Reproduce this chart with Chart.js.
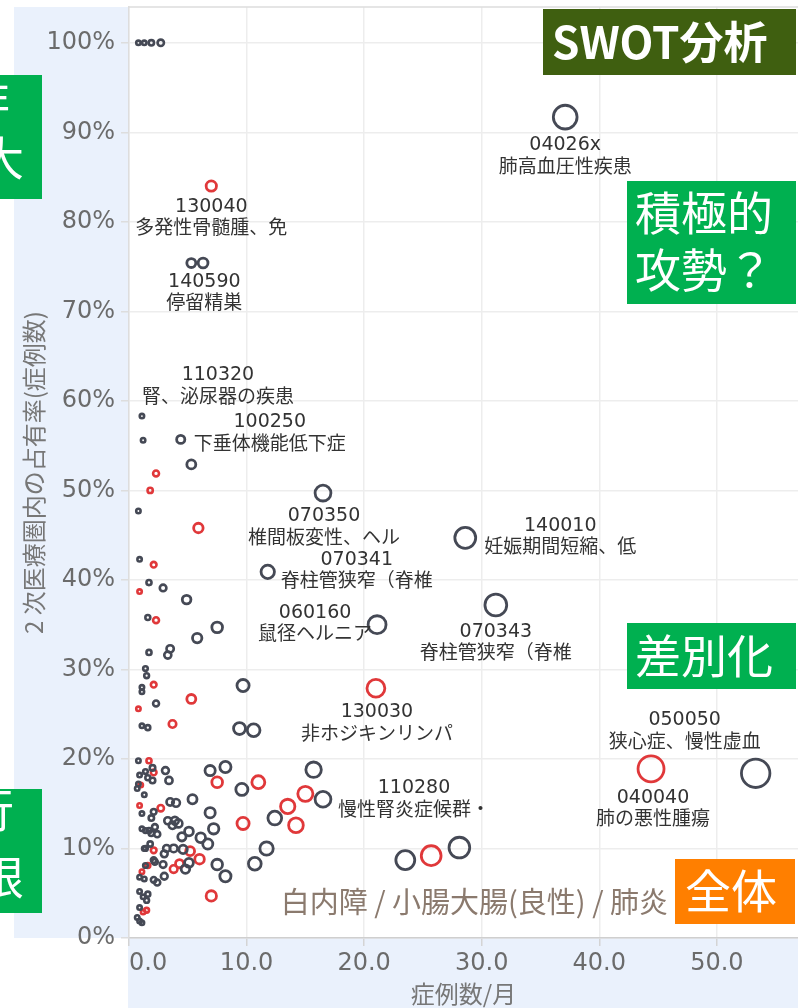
<!DOCTYPE html>
<html lang="ja">
<head>
<meta charset="utf-8">
<title>SWOT分析</title>
<script src="https://cdn.jsdelivr.net/npm/chart.js@4.4.1/dist/chart.umd.min.js"></script>
<style>
  html, body { margin: 0; padding: 0; background: #fff; }
  #wrap { width: 798px; height: 1008px; }
</style>
</head>
<body>
<div id="wrap"><canvas id="myChart" width="798" height="1008"></canvas></div>
<script>
// 症例数/月 (x) と 2次医療圏内の占有率 % (y)。先頭はラベル付きの点
const grayX = [37.1, 5.3, 6.3, 1.1, 4.4, 16.5, 11.8, 21.1, 28.6, 31.2, 16.5, 53.3,
  1.2, 5.3, 0.8, 0.9, 1.7, 2.9, 4.9, 1.6, 7.5, 5.8, 3.5, 3.3, 1.7, 1.4, 1.5, 1.1, 1.1,
  9.7, 2.3, 1.1, 1.6, 9.4, 10.6, 15.7, 12.4, 9.6, 11.7, 10.7, 8.2, 6.9, 6.9, 7.2, 6.1,
  6.7, 7.5, 8.2, 5.4, 5.1, 5.1, 4.8, 4.6, 4.5, 4.2, 3.9, 3.3, 3.7, 3.5, 4.0, 3.1, 3.4,
  3.8, 3.2, 3.0, 2.9, 3.0, 2.4, 2.1, 2.2, 2.1, 1.9, 2.2, 2.4, 1.9, 1.7, 1.8, 1.4, 2.1,
  1.4, 0.9, 1.3, 0.9, 1.6, 1.2, 1.5, 0.9, 0.7, 0.9, 1.1, 0.8, 2.0, 1.4, 0.9, 1.6, 2.0,
  0.8, 0.7, 1.3, 1.1, 1.1, 1.4, 1.3, 23.5, 28.1, 0.8, 1.3, 1.9, 2.7];
const grayY = [91.7, 75.4, 75.4, 58.3, 55.7, 49.7, 40.9, 35.0, 44.7, 37.2, 15.5, 18.4,
  55.6, 52.9, 47.7, 42.3, 39.7, 39.1, 37.8, 35.8, 34.7, 33.5, 32.3, 31.6, 31.9, 30.1, 29.3, 28.0, 27.5,
  28.2, 26.2, 23.7, 23.5, 23.4, 23.2, 18.8, 13.4, 16.6, 10.0, 8.3, 19.1, 18.7, 14.0, 12.2, 11.2,
  10.5, 8.2, 6.9, 15.5, 11.9, 8.4, 7.7, 9.9, 11.3, 12.8, 13.1, 13.1, 12.6, 15.2, 15.1, 18.7, 17.6,
  10.0, 10.0, 9.4, 8.2, 6.9, 6.2, 6.5, 8.5, 14.1, 13.4, 12.4, 11.6, 11.7, 12.0, 10.5, 10.0, 8.7,
  8.1, 6.8, 6.6, 5.2, 4.9, 4.6, 4.2, 3.4, 2.3, 1.9, 1.7, 19.8, 19.0, 18.6, 18.2, 17.9, 17.6,
  17.2, 16.7, 16.0, 13.9, 12.2, 12.0, 10.0, 8.7, 10.1, 100, 100, 100, 100];

const redX = [7.0, 21.0, 44.4,
  2.3, 1.8, 5.9, 2.1, 0.9, 2.3, 2.1, 5.3, 0.8, 3.7, 11.0, 15.0, 13.5, 14.2, 9.7, 7.5,
  7.0, 5.2, 6.0, 4.3, 3.8, 2.7, 2.1, 1.6, 1.1, 1.5, 1.2, 1.7, 2.1, 1.0, 0.9, 25.7];
const redY = [84.0, 27.9, 18.9,
  51.9, 50.0, 45.8, 41.7, 38.7, 35.5, 28.3, 26.7, 25.6, 23.9, 17.4, 16.1, 14.7, 12.6, 12.8, 17.4,
  4.7, 9.7, 8.8, 8.3, 7.7, 14.5, 9.8, 8.1, 7.4, 3.1, 2.9, 19.8, 18.5, 17.1, 14.8, 9.2];

const labelCodes = ['04026x', '140590', '110320', '100250', '070350', '070341', '060160',
  '140010', '070343', '110280', '050050', '130040', '130030', '040040'];
const labelNames = ['肺高血圧性疾患', '停留精巣', '腎、泌尿器の疾患', '下垂体機能低下症',
  '椎間板変性、ヘル', '脊柱管狭窄（脊椎', '鼠径ヘルニア', '妊娠期間短縮、低', '脊柱管狭窄（脊椎',
  '慢性腎炎症候群・', '狭心症、慢性虚血', '多発性骨髄腫、免', '非ホジキンリンパ', '肺の悪性腫瘍'];

const xTicks = [0, 10, 20, 30, 40, 50];
const yTicks = [0, 10, 20, 30, 40, 50, 60, 70, 80, 90, 100];
const xTitle = '症例数/月';
const yTitle = '2 次医療圏内の占有率(症例数)';
const noteText = '白内障 / 小腸大腸(良性) / 肺炎';

// which point each label belongs to, and where its text sits
const labelPlacement = [
  { ds: 0, idx: 0, dx: 0, dy: 28 },
  { ds: 0, idx: 1, dx: 13, dy: 19 },
  { ds: 0, idx: 3, dx: 76, dy: -41 },
  { ds: 0, idx: 4, dx: 89, dy: -17 },
  { ds: 0, idx: 5, dx: 1, dy: 23 },
  { ds: 0, idx: 6, dx: 89, dy: -12 },
  { ds: 0, idx: 7, dx: -62, dy: -12 },
  { ds: 0, idx: 8, dx: 95, dy: -12 },
  { ds: 0, idx: 9, dx: 0, dy: 27 },
  { ds: 0, idx: 10, dx: 91, dy: -11 },
  { ds: 0, idx: 11, dx: -71, dy: -53 },
  { ds: 1, idx: 0, dx: 0, dy: 21 },
  { ds: 1, idx: 1, dx: 1, dy: 24 },
  { ds: 1, idx: 2, dx: 2, dy: 29 },
];

// coloured boxes
const boxes = [
  { x: 543, y: 9, w: 253, h: 66, color: '#3f5f10', bold: true, lines: [['SWOT分析', 552, 42]] },
  { x: 627, y: 181, w: 169, h: 123, color: '#00b050', lines: [['積極的', 635, 213], ['攻勢？', 635, 270]] },
  { x: 627, y: 623, w: 169, h: 66, color: '#00b050', lines: [['差別化', 635, 656]] },
  { x: 675, y: 859, w: 120, h: 65, color: '#ff7f00', lines: [['全体', 685, 891]] },
  { x: 0, y: 75, w: 42, h: 124, color: '#00b050', align: 'right', lines: [['是非', 10, 100], ['拡大', 24, 158]] },
  { x: 0, y: 789, w: 42, h: 124, color: '#00b050', align: 'right', lines: [['移行', 14, 810], ['制限', 24, 877]] },
];

const toPoints = (xs, ys) => xs.map((x, i) => ({ x: x, y: ys[i] }));

// bubble area follows 症例数/月
const bubbleRadius = (c) => {
  const x = c.raw ? c.raw.x : 0;
  return Math.max(2.2, 1.95 * Math.sqrt(x));
};
const bubbleBorder = (c) => (bubbleRadius(c) < 4 ? 2.6 : 2.8);

const backgroundPlugin = {
  id: 'panels',
  beforeDraw(chart) {
    const ctx = chart.ctx;
    const a = chart.chartArea;
    ctx.save();
    ctx.fillStyle = '#fff';
    ctx.fillRect(0, 0, chart.width, chart.height);
    ctx.fillStyle = '#eaf1fc';
    ctx.fillRect(14, a.top, a.left - 14, a.bottom - a.top);
    ctx.fillRect(a.left - 1, a.bottom, chart.width - a.left + 1, chart.height - a.bottom);
    ctx.restore();
  },
  afterDraw(chart) {
    const ctx = chart.ctx;
    const a = chart.chartArea;
    ctx.save();
    ctx.strokeStyle = '#dcdcdc';
    ctx.lineWidth = 1.5;
    ctx.beginPath();
    ctx.moveTo(a.left, a.top);
    ctx.lineTo(a.right, a.top);
    ctx.stroke();

    ctx.fillStyle = '#8b7a6e';
    ctx.font = '29px "Noto Sans CJK JP", sans-serif';
    ctx.textAlign = 'right';
    ctx.textBaseline = 'middle';
    ctx.fillText(noteText, 668, 902);

    boxes.forEach((b) => {
      ctx.fillStyle = b.color;
      ctx.fillRect(b.x, b.y, b.w, b.h);
      ctx.fillStyle = '#fff';
      ctx.font = (b.bold ? 'bold 44px ' : '46px ') + '"Noto Sans CJK JP", sans-serif';
      ctx.textAlign = b.align || 'left';
      b.lines.forEach(([t, x, y]) => ctx.fillText(t, x, y));
    });
    ctx.restore();
  }
};

const labelPlugin = {
  id: 'pointLabels',
  afterDatasetsDraw(chart) {
    const ctx = chart.ctx;
    ctx.save();
    ctx.font = '19px "DejaVu Sans", "Noto Sans CJK JP", sans-serif';
    ctx.fillStyle = '#333';
    ctx.textAlign = 'center';
    ctx.textBaseline = 'middle';
    labelPlacement.forEach((p, i) => {
      const pt = chart.getDatasetMeta(p.ds).data[p.idx];
      const x = pt.x + p.dx;
      const y = pt.y + p.dy;
      ctx.fillText(labelCodes[i], x, y);
      ctx.fillText(labelNames[i], x, y + 22.5);
    });
    ctx.restore();
  }
};

const ctx = document.getElementById('myChart').getContext('2d');
const myChart = new Chart(ctx, {
  type: 'scatter',
  data: {
    datasets: [
      {
        label: 'gray',
        data: toPoints(grayX, grayY),
        borderColor: '#454955',
        backgroundColor: 'rgba(255,255,255,0)',
        pointRadius: bubbleRadius,
        pointBorderWidth: bubbleBorder,
      },
      {
        label: 'red',
        data: toPoints(redX, redY),
        borderColor: '#e0383a',
        backgroundColor: 'rgba(255,255,255,0)',
        pointRadius: bubbleRadius,
        pointBorderWidth: bubbleBorder,
      },
    ],
  },
  options: {
    responsive: false,
    animation: false,
    layout: { autoPadding: false, padding: { top: 7, left: 0, right: 0, bottom: 0 } },
    plugins: {
      legend: { display: false },
      tooltip: { enabled: false },
    },
    scales: {
      x: {
        type: 'linear',
        min: 0,
        max: 56.9,
        afterBuildTicks: (s) => { s.ticks = xTicks.map((v) => ({ value: v })); },
        afterFit: (s) => { s.height = 70; s.paddingLeft = 0; s.paddingRight = 0; },
        grid: { color: '#ededed', lineWidth: 1.5, tickLength: 8, tickColor: '#d4d4d4' },
        border: { color: '#cfcfcf', width: 1.5 },
        ticks: {
          padding: 3,
          maxRotation: 0,
          autoSkip: false,
          color: '#6b6b6b',
          font: { family: 'DejaVu Sans', size: 24 },
          // first label sits inside the plot, like the original
          callback: (v) => (v === 0 ? '\u2007\u2007 0.0' : Number(v).toFixed(1)),
        },
        title: {
          display: true,
          text: xTitle,
          color: '#777',
          font: { family: 'Noto Sans CJK JP', size: 24 },
          padding: { top: 0, bottom: 0 },
        },
      },
      y: {
        type: 'linear',
        min: 0,
        max: 104,
        afterBuildTicks: (s) => { s.ticks = yTicks.map((v) => ({ value: v })); },
        afterFit: (s) => { s.width = 129; s.paddingTop = 0; s.paddingBottom = 0; },
        grid: { color: '#ededed', lineWidth: 1.5, tickLength: 8, tickColor: '#dddddd' },
        border: { color: '#dddddd', width: 1.5 },
        ticks: {
          padding: 6,
          autoSkip: false,
          color: '#6b6b6b',
          font: { family: 'DejaVu Sans', size: 24 },
          callback: (v) => v + '%',
        },
        title: {
          display: true,
          text: yTitle,
          color: '#777',
          font: { family: 'Noto Sans CJK JP', size: 24 },
          padding: { top: 19, bottom: 0 },
        },
      },
    },
  },
  plugins: [backgroundPlugin, labelPlugin],
});
</script>
</body>
</html>
